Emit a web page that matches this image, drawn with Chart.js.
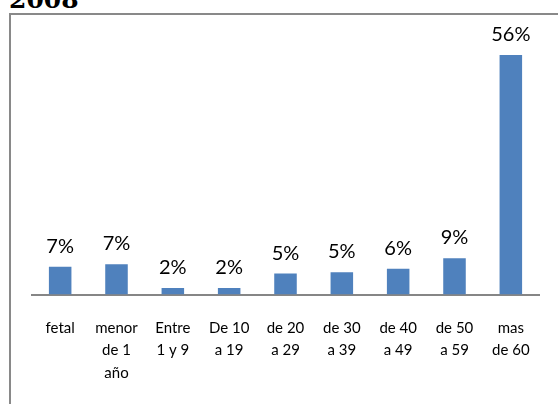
<!DOCTYPE html>
<html>
<head>
<meta charset="utf-8">
<script src="https://cdn.jsdelivr.net/npm/chart.js@4"></script>
<style>
  html, body { margin: 0; padding: 0; background: #fff; overflow: hidden; }
  #wrap { position: relative; width: 558px; height: 404px; overflow: hidden; }
  #title { position: absolute; left: 9px; top: -13px; font: bold 25px "DejaVu Serif"; line-height: 25px; color: #000; }
  #frame { position: absolute; left: 9px; top: 13px; width: 600px; height: 500px;
           border-left: 2px solid #898989; border-top: 2px solid #898989; }
  #c { position: absolute; left: 0; top: 0; }
</style>
</head>
<body>
<div id="wrap">
  <div id="title">2008</div>
  <div id="frame"></div>
  <canvas id="c" width="558" height="404"></canvas>
</div>
<script>
// age groups
const labels = [
  "fetal",
  ["menor", "de 1", "año"],
  ["Entre", "1 y 9"],
  ["De 10", "a 19"],
  ["de 20", "a 29"],
  ["de 30", "a 39"],
  ["de 40", "a 49"],
  ["de 50", "a 59"],
  ["mas", "de 60"],
];
// percent of deaths
const values = [6.5, 7.1, 1.5, 1.5, 4.9, 5.2, 6.0, 8.5, 56];

// draws "7%" etc above each bar
const barLabels = {
  id: "barLabels",
  afterDatasetsDraw(chart) {
    const ctx = chart.ctx;
    const meta = chart.getDatasetMeta(0);
    ctx.save();
    ctx.font = "20px Lato";
    ctx.fillStyle = "#000";
    ctx.textAlign = "center";
    ctx.textBaseline = "alphabetic";
    meta.data.forEach((bar, i) => {
      ctx.fillText(Math.round(values[i]) + "%", bar.x, bar.y - 14);
    });
    ctx.restore();
  },
};

new Chart(document.getElementById("c"), {
  type: "bar",
  data: {
    labels: labels,
    datasets: [
      {
        data: values,
        backgroundColor: "#4F81BD",
        borderWidth: 0,
        categoryPercentage: 1,
        barPercentage: 0.4,
      },
    ],
  },
  options: {
    responsive: false,
    animation: false,
    layout: { padding: { left: 32, right: 19, top: 38, bottom: 0 } },
    plugins: {
      legend: { display: false },
      tooltip: { enabled: false },
    },
    scales: {
      x: {
        grid: { display: false, drawTicks: false },
        border: { display: true, color: "#868686", width: 2 },
        ticks: {
          color: "#000",
          font: { family: "Lato", size: 15, lineHeight: 1.5 },
          padding: 22,
          maxRotation: 0,
          autoSkip: false,
        },
        afterFit(scale) {
          scale.height = 109.5;
        },
      },
      y: {
        display: false,
        min: 0,
        max: 60,
      },
    },
  },
  plugins: [barLabels],
});
</script>
</body>
</html>
